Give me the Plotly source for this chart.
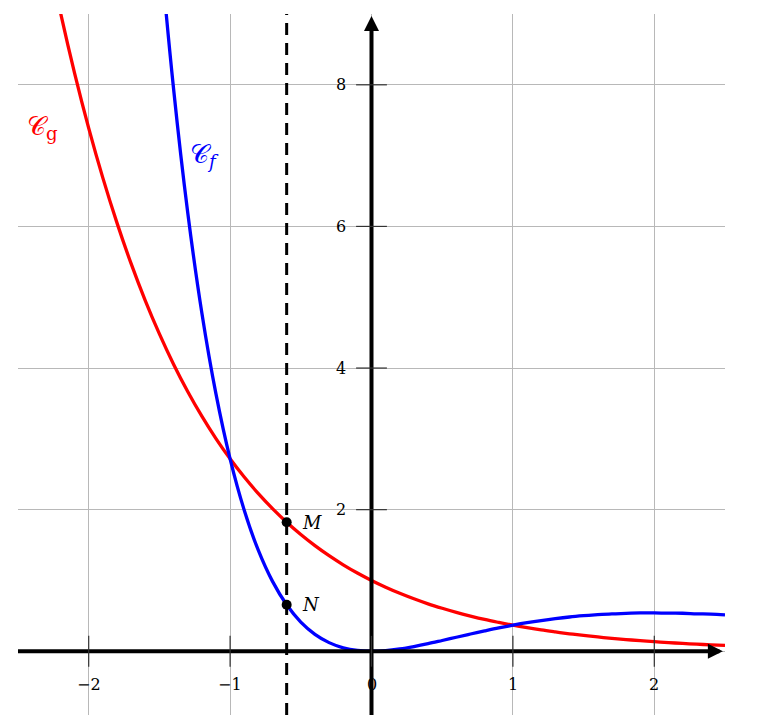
import plotly.graph_objects as go

x_vals = [-2.5, -2.4, -2.3, -2.2, -2.1, -2.0, -1.9, -1.8, -1.7, -1.6, -1.5, -1.4, -1.3,
          -1.2, -1.1, -1.0, -0.9, -0.8, -0.7, -0.6, -0.5, -0.4, -0.3, -0.2, -0.1, 0.0,
          0.1, 0.2, 0.3, 0.4, 0.5, 0.6, 0.7, 0.8, 0.9, 1.0, 1.1, 1.2, 1.3, 1.4, 1.5,
          1.6, 1.7, 1.8, 1.9, 2.0, 2.1, 2.2, 2.3, 2.4, 2.5]
g_vals = [12.182, 11.023, 9.974, 9.025, 8.166, 7.389, 6.686, 6.050, 5.474, 4.953, 4.482,
          4.055, 3.669, 3.320, 3.004, 2.718, 2.460, 2.226, 2.014, 1.822, 1.649, 1.492,
          1.350, 1.221, 1.105, 1.000, 0.905, 0.819, 0.741, 0.670, 0.607, 0.549, 0.497,
          0.449, 0.407, 0.368, 0.333, 0.301, 0.273, 0.247, 0.223, 0.202, 0.183, 0.165,
          0.150, 0.135, 0.122, 0.111, 0.100, 0.091, 0.082]
f_x = x_vals[9:]
f_vals = [12.680, 10.084, 7.948, 6.201, 4.781, 3.635, 2.718, 1.993, 1.424, 0.987, 0.656,
          0.412, 0.239, 0.122, 0.049, 0.011, 0.000, 0.009, 0.033, 0.067, 0.107, 0.152,
          0.198, 0.244, 0.288, 0.330, 0.368, 0.403, 0.434, 0.461, 0.484, 0.502, 0.517,
          0.529, 0.535, 0.542, 0.541, 0.538, 0.537, 0.529, 0.524, 0.513]

x_ticks = [-2, -1, 0, 1, 2]
x_tick_labels = ["\u22122", "\u22121", "0", "1", "2"]
y_ticks = [2, 4, 6, 8]
y_tick_labels = ["2", "4", "6", "8"]

a = -0.6
pt_names = ["M", "N"]
pt_y = [1.822, 0.656]

X_MIN, X_MAX = -2.5, 2.5
Y_MIN, Y_MAX = -0.9, 9.0

serif = "DejaVu Serif, Liberation Serif, serif"

fig = go.Figure()

# curves
fig.add_trace(go.Scatter(x=x_vals, y=g_vals, mode="lines",
                         line=dict(color="#ff0000", width=3.3, shape="spline"), hoverinfo="skip"))
fig.add_trace(go.Scatter(x=f_x, y=f_vals, mode="lines",
                         line=dict(color="#0000ff", width=3.3, shape="spline"), hoverinfo="skip"))

# vertical dashed line x = a
fig.add_shape(type="line", x0=a, x1=a, y0=Y_MIN, y1=Y_MAX,
              line=dict(color="black", width=3, dash="12px,8px"))

# axes
fig.add_trace(go.Scatter(x=[X_MIN, X_MAX - 0.04], y=[0, 0], mode="lines",
                         line=dict(color="black", width=4), hoverinfo="skip"))
fig.add_trace(go.Scatter(x=[0, 0], y=[Y_MIN, Y_MAX - 0.1], mode="lines",
                         line=dict(color="black", width=4), hoverinfo="skip"))
# arrow heads
fig.add_trace(go.Scatter(x=[X_MAX - 0.015], y=[0], mode="markers",
                         marker=dict(symbol="arrow-right", size=15, color="black"), hoverinfo="skip"))
fig.add_trace(go.Scatter(x=[0], y=[Y_MAX - 0.03], mode="markers",
                         marker=dict(symbol="arrow-up", size=15, color="black"), hoverinfo="skip"))

# tick marks and labels
fig.add_trace(go.Scatter(x=x_ticks, y=[0] * len(x_ticks), mode="markers",
                         marker=dict(symbol="line-ns", size=22, line=dict(width=1.2, color="#333")),
                         hoverinfo="skip"))
fig.add_trace(go.Scatter(x=[0] * len(y_ticks), y=y_ticks, mode="markers",
                         marker=dict(symbol="line-ew", size=22, line=dict(width=1.2, color="#333")),
                         hoverinfo="skip"))
for xv, lab in zip(x_ticks, x_tick_labels):
    fig.add_annotation(x=xv, y=0, yshift=-33, text=lab, showarrow=False,
                       font=dict(family=serif, size=16, color="black"))
for yv, lab in zip(y_ticks, y_tick_labels):
    fig.add_annotation(x=0, y=yv, xshift=-24, text=lab, showarrow=False, xanchor="right",
                       font=dict(family=serif, size=16, color="black"))

# points M and N
fig.add_trace(go.Scatter(x=[a, a], y=pt_y, mode="markers",
                         marker=dict(color="black", size=10), hoverinfo="skip"))
for n, yv in zip(pt_names, pt_y):
    fig.add_annotation(x=a, y=yv, xshift=13, text="<i>" + n + "</i>", showarrow=False,
                       xanchor="left", font=dict(family=serif, size=18, color="black"))

# curve names
fig.add_annotation(x=-2.33, y=7.4, text="\U0001D49E<sub>g</sub>", showarrow=False,
                   font=dict(family=serif, size=26, color="#ff0000"))
fig.add_annotation(x=-1.18, y=7.0, text="\U0001D49E<sub><i>f</i></sub>", showarrow=False,
                   font=dict(family=serif, size=26, color="#0000ff"))

fig.update_layout(
    width=754, height=707,
    showlegend=False,
    plot_bgcolor="white",
    paper_bgcolor="white",
    margin=dict(l=10, r=37, t=6, b=0),
    xaxis=dict(range=[X_MIN, X_MAX], dtick=1, showgrid=True, gridcolor="#b8b8b8", gridwidth=0.8,
               zeroline=False, showticklabels=False, fixedrange=True),
    yaxis=dict(range=[Y_MIN, Y_MAX], dtick=2, showgrid=True, gridcolor="#b8b8b8", gridwidth=0.8,
               zeroline=False, showticklabels=False, fixedrange=True),
)

fig.write_html("out.html")
